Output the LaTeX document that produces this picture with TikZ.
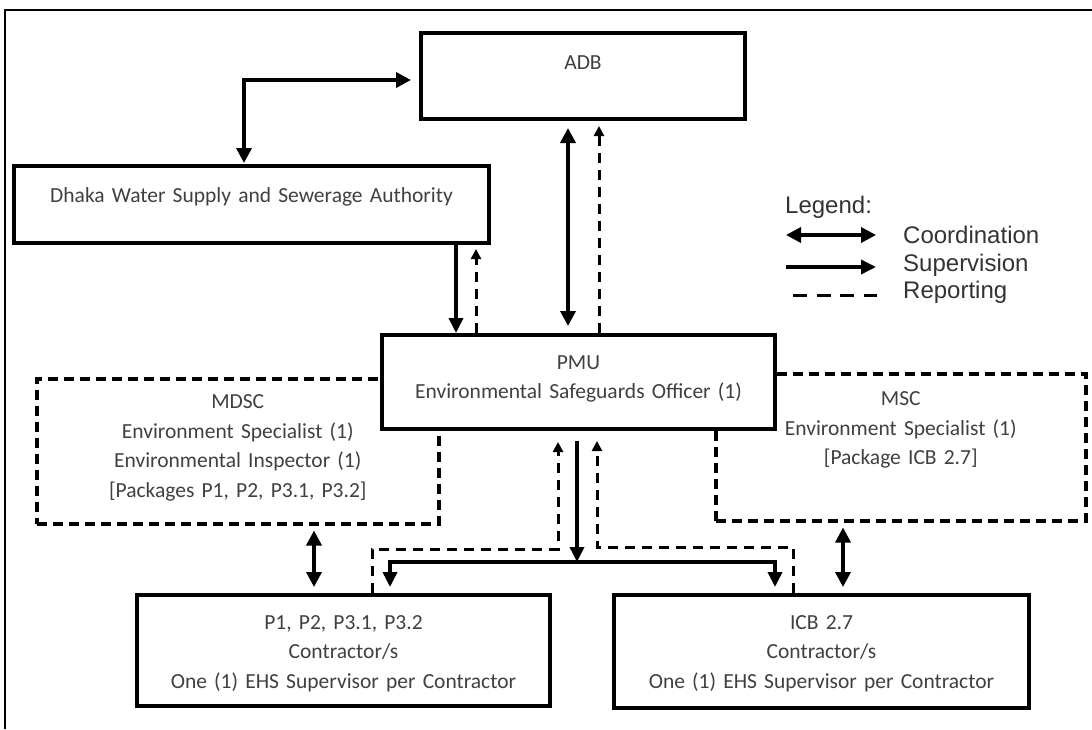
\documentclass[tikz,border=0pt]{standalone}
\usepackage{fontspec}
\setmainfont{Carlito}
\newfontfamily\legendfont{Liberation Sans}
\usetikzlibrary{arrows.meta, positioning}

\begin{document}
\begin{tikzpicture}[x=1pt, y=-1pt,
        box/.style={draw, line width=4pt, fill=white, inner sep=0pt, align=center, anchor=north west,
            text=black!75, font=\fontsize{21.5}{29.5}\selectfont},
        dbox/.style={box, line width=3.5pt, dash pattern=on 10pt off 6pt},
        coord/.style={line width=3.5pt, {Triangle[length=15pt,width=15pt]}-{Triangle[length=15pt,width=15pt]}},
        sup/.style={line width=3.5pt, -{Triangle[length=15pt,width=14pt]}},
        rep/.style={line width=3pt, dash pattern=on 10pt off 7pt, -{Triangle[length=10pt,width=10pt]}},
        legtext/.style={inner sep=0pt, text=black!80, font=\legendfont\fontsize{24}{28}\selectfont}]
        \useasboundingbox (0,0) rectangle (1092,729);
        \draw[line width=2.5pt] (5,729) -- (5,10) -- (1092,10);

        % boxes
        \node[box, text width=324pt, text height=36pt, text depth=50pt] (adb) at (419,31) {ADB};
        \node[box, text width=475pt, text height=36pt, text depth=41pt] (dwssa) at (12,164) {Dhaka Water Supply and Sewerage Authority};
        \node[dbox, text width=402pt, text height=30pt, text depth=115pt] (mdsc) at (35,377)
            {MDSC\\Environment Specialist (1)\\Environmental Inspector (1)\\{[}Packages P1, P2, P3.1, P3.2{]}};
        \node[dbox, text width=370pt, text height=32pt, text depth=115pt] (msc) at (714,372)
            {MSC\\Environment Specialist (1)\\{[}Package ICB 2.7{]}};
        \node[box, text width=393pt, text height=34pt, text depth=60pt] (pmu) at (380,333)
            {PMU\\Environmental Safeguards Officer (1)};
        \node[box, text width=413pt, text height=34pt, text depth=77pt] (conta) at (135,593)
            {P1, P2, P3.1, P3.2\\Contractor/s\\One (1) EHS Supervisor per Contractor};
        \node[box, text width=415pt, text height=34pt, text depth=79pt] (contb) at (612,593)
            {ICB 2.7\\Contractor/s\\One (1) EHS Supervisor per Contractor};

        % connectors
        \draw[coord, shorten <=1pt, shorten >=8pt] ([xshift=232]dwssa.north west) |- ([yshift=-4]adb.west);
        \draw[sup] ([xshift=-35]dwssa.south east) -- ([xshift=-35]dwssa.south east |- pmu.north);
        \draw[rep, shorten >=4pt] ([xshift=-15]dwssa.south east |- pmu.north) -- ([xshift=-15]dwssa.south east);
        \draw[coord, shorten <=7pt, shorten >=7pt] ([xshift=149]adb.south west) -- ([xshift=149]adb.south west |- pmu.north);
        \draw[rep, shorten >=5pt] ([xshift=180]adb.south west |- pmu.north) -- ([xshift=180]adb.south west);

        \coordinate (split) at (577,562);
        \coordinate (repa) at (558,549);
        \coordinate (repb) at (597,547);
        \draw[sup, shorten <=10pt] (pmu.south -| split) -- (split);
        \draw[sup, shorten >=6pt] (split) -| ([xshift=255]conta.north west);
        \draw[sup, shorten >=6pt] (split) -| ([xshift=163]contb.north west);
        \draw[rep, shorten >=11pt] ([xshift=237]conta.north west) |- (repa) -- (repa |- pmu.south);
        \draw[rep, shorten >=10pt] ([xshift=181]contb.north west) |- (repb) -- (repb |- pmu.south);
        \draw[coord, shorten <=5pt, shorten >=6pt] ([xshift=179]conta.north west |- mdsc.south) -- ([xshift=179]conta.north west);
        \draw[coord, shorten <=5pt, shorten >=6pt] ([xshift=231]contb.north west |- msc.south) -- ([xshift=231]contb.north west);

        % legend
        \node[legtext, anchor=west] (legend) at (785,207) {Legend:};
        \coordinate (ca) at (786,235);
        \coordinate (cb) at (876,235);
        \coordinate (sa) at (786,267);
        \coordinate (sb) at (876,267);
        \coordinate (ra) at (793,295);
        \coordinate (rb) at (877,295);
        \draw[coord] (ca) -- (cb);
        \draw[sup] (sa) -- (sb);
        \draw[line width=3pt, dash pattern=on 14pt off 9.5pt] (ra) -- (rb);
        \node[legtext, right=27pt of cb] (lcoord) {Coordination};
        \node[legtext, right=27pt of sb, yshift=2pt] (lsup) {Supervision};
        \node[legtext, right=26pt of rb, yshift=3pt] (lrep) {Reporting};
    \end{tikzpicture}
\end{document}
